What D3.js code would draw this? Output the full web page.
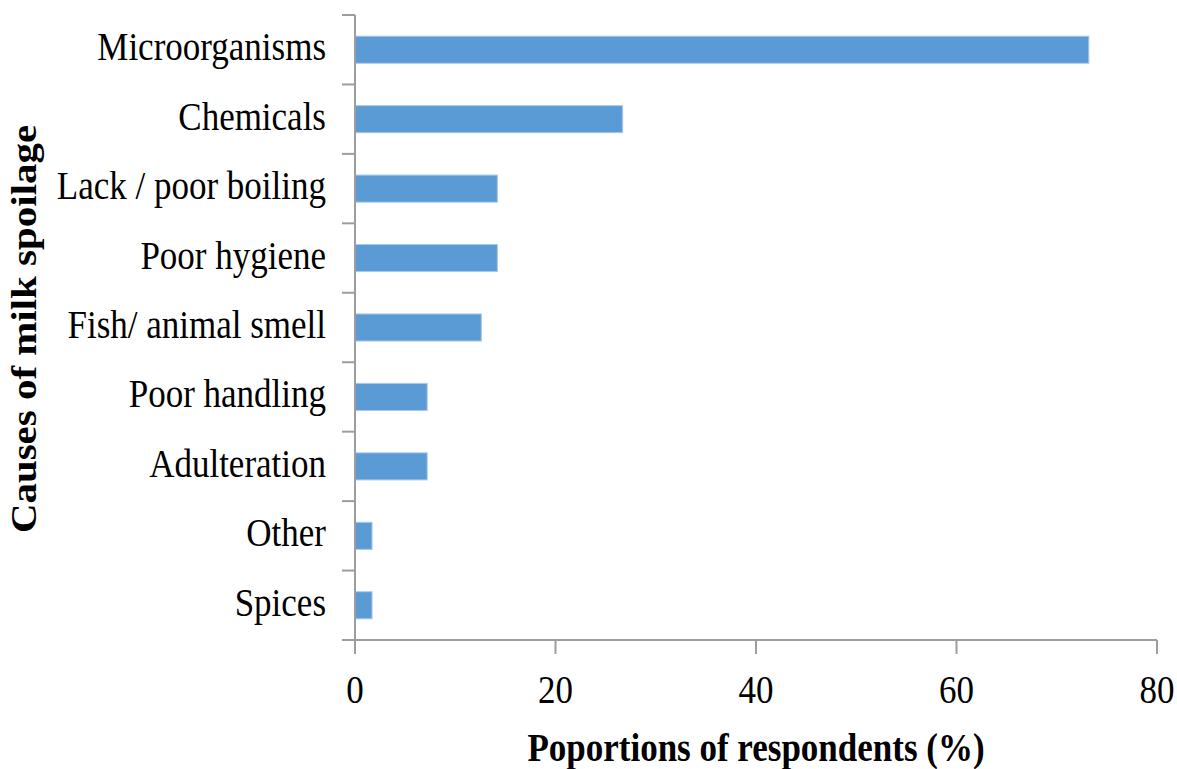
<!DOCTYPE html>
<html>
<head>
<meta charset="utf-8">
<script src="https://cdn.jsdelivr.net/npm/d3@7"></script>
<style>
  html, body { margin: 0; padding: 0; background: #fff; }
  svg { display: block; }
  text { font-family: "Liberation Serif", "Times New Roman", serif; fill: #000; }
</style>
</head>
<body>
<svg id="chart" width="1177" height="769"></svg>
<script>
const categories = ["Microorganisms", "Chemicals", "Lack / poor boiling", "Poor hygiene",
  "Fish/ animal smell", "Poor handling", "Adulteration", "Other", "Spices"];
const values = [73.2, 26.7, 14.2, 14.2, 12.6, 7.2, 7.2, 1.7, 1.7];
const xTicks = [0, 20, 40, 60, 80];
const xTitle = "Poportions of respondents (%)";
const yTitle = "Causes of milk spoilage";

(function () {
const svg = d3.select("#chart");
const pLeft = 355, pRight = 1157, pTop = 15, pBottom = 640;
const axisColor = "#9d9d9d";
const sy = 1.17; // vertical stretch of text as in reference

const x = d3.scaleLinear().domain([0, 80]).range([pLeft, pRight]);
const y = d3.scaleBand().domain(categories).range([pTop, pBottom]).paddingInner(0.61).paddingOuter(0.305);
const yb = d3.scaleBand().domain(categories).range([pTop, pBottom]);

// bars
svg.append("g").selectAll("rect").data(values).join("rect")
  .attr("x", x(0))
  .attr("y", (d, i) => y(categories[i]))
  .attr("width", d => x(d) - x(0))
  .attr("height", y.bandwidth())
  .attr("fill", "#5b9bd5")
  .attr("stroke", "#a9c9ea")
  .attr("stroke-width", 1);

// y axis
const gy = svg.append("g");
gy.append("line").attr("x1", pLeft).attr("x2", pLeft).attr("y1", pTop).attr("y2", pBottom)
  .attr("stroke", axisColor).attr("stroke-width", 2);
const yTickPos = categories.map(c => yb(c)).concat([pBottom]);
gy.selectAll("line.tk").data(yTickPos).join("line").attr("class", "tk")
  .attr("x1", pLeft - 13).attr("x2", pLeft).attr("y1", d => d).attr("y2", d => d)
  .attr("stroke", axisColor).attr("stroke-width", 2);
gy.selectAll("text").data(categories).join("text")
  .attr("transform", d => `translate(326,${yb(d) + yb.bandwidth() / 2 + 10.5}) scale(1,${sy})`)
  .attr("text-anchor", "end")
  .style("font-size", "35px")
  .text(d => d);

// x axis
const gx = svg.append("g");
gx.append("line").attr("x1", pLeft).attr("x2", pRight).attr("y1", pBottom).attr("y2", pBottom)
  .attr("stroke", axisColor).attr("stroke-width", 2);
gx.selectAll("line.tk").data(xTicks).join("line").attr("class", "tk")
  .attr("x1", d => x(d)).attr("x2", d => x(d)).attr("y1", pBottom).attr("y2", pBottom + 14)
  .attr("stroke", axisColor).attr("stroke-width", 2);
gx.selectAll("text").data(xTicks).join("text")
  .attr("transform", d => `translate(${x(d)},703) scale(1,${sy})`)
  .attr("text-anchor", "middle")
  .style("font-size", "35px")
  .text(d => d);

// titles
svg.append("text")
  .attr("transform", `translate(756,761) scale(1,${sy})`)
  .attr("text-anchor", "middle")
  .style("font-size", "35px").style("font-weight", "bold")
  .text(xTitle);

svg.append("text")
  .attr("transform", `translate(36,329) scale(1,${sy}) rotate(-90)`)
  .attr("text-anchor", "middle")
  .style("font-size", "35px").style("font-weight", "bold")
  .text(yTitle);
})();
</script>
</body>
</html>
